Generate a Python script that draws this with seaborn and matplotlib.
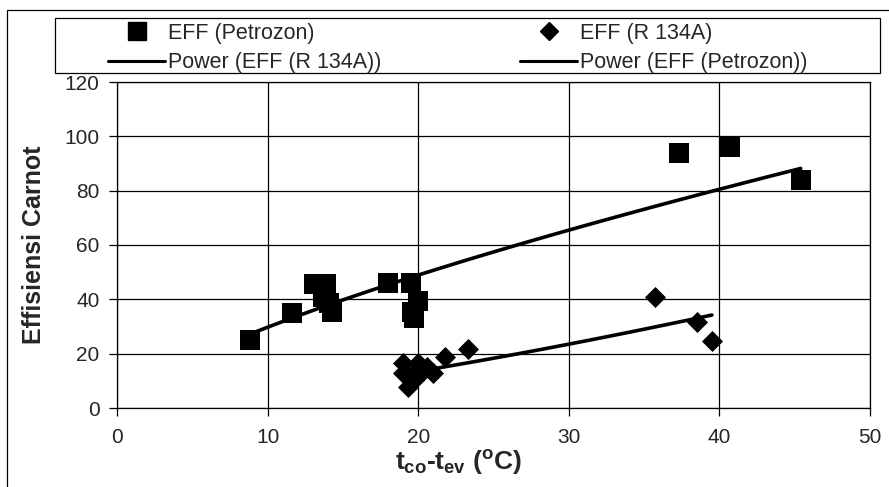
import numpy as np
import pandas as pd
import matplotlib.pyplot as plt
import seaborn as sns
from matplotlib.lines import Line2D
from matplotlib.patches import Rectangle

# Data
petro_x = [8.8, 11.6, 13.1, 13.7, 13.9, 13.7, 14.1, 14.3, 18.0, 19.5, 20.0, 19.6, 19.7, 37.3, 40.7, 45.4]
petro_y = [25, 35, 45.5, 45, 45.5, 41, 38.5, 35.5, 46, 46, 39.5, 35.5, 33, 94, 96, 84]
r134_x = [19.0, 19.3, 19.7, 19.0, 19.6, 20.0, 20.3, 20.6, 21.0, 21.8, 23.3, 35.7, 38.5, 39.5]
r134_y = [12.9, 7.7, 10.3, 16.5, 12.0, 16.5, 13.5, 15.0, 12.9, 18.8, 21.7, 41.0, 31.7, 24.7]
x_ticks = [0, 10, 20, 30, 40, 50]
y_ticks = [0, 20, 40, 60, 80, 100, 120]

sns.set_theme(style='white')
plt.rcParams['font.family'] = ['Liberation Sans', 'DejaVu Sans']
plt.rcParams['mathtext.fontset'] = 'custom'
plt.rcParams['mathtext.rm'] = 'Liberation Sans:bold'
plt.rcParams['mathtext.it'] = 'Liberation Sans:bold'
plt.rcParams['mathtext.bf'] = 'Liberation Sans:bold'


def power_fit(x, y):
    # y = a * x^b, fitted in log-log space like a spreadsheet trendline
    b, ln_a = np.polyfit(np.log(x), np.log(y), 1)
    xs = np.linspace(min(x), max(x), 100)
    return pd.DataFrame({'x': xs, 'y': np.exp(ln_a) * xs ** b})


petro = pd.DataFrame({'x': petro_x, 'y': petro_y})
r134 = pd.DataFrame({'x': r134_x, 'y': r134_y})
fit_r134 = power_fit(r134_x, r134_y)
fit_petro = power_fit(petro_x, petro_y)

fig = plt.figure(figsize=(8.89, 4.87), dpi=100)
ax = fig.add_axes([117 / 889, 79 / 487, 753 / 889, 326 / 487])

sns.scatterplot(data=petro, x='x', y='y', marker='s', s=190, color='black',
                edgecolor='black', linewidth=0, ax=ax, legend=False, zorder=3)
sns.scatterplot(data=r134, x='x', y='y', marker='D', s=115, color='black',
                edgecolor='black', linewidth=0, ax=ax, legend=False, zorder=3)
sns.lineplot(data=fit_r134, x='x', y='y', color='black', linewidth=2.6, ax=ax,
             legend=False, zorder=4)
sns.lineplot(data=fit_petro, x='x', y='y', color='black', linewidth=2.6, ax=ax,
             legend=False, zorder=4)

ax.set_xlim(0, 50)
ax.set_ylim(0, 120)
ax.set_xticks(x_ticks)
ax.set_yticks(y_ticks)
ax.grid(True, color='black', linewidth=0.9)
ax.set_axisbelow(True)
for sp in ax.spines.values():
    sp.set_color('black')
    sp.set_linewidth(0.9)
ax.tick_params(axis='both', direction='out', length=5.5, width=0.9, color='black',
               labelsize=15, bottom=True, left=True)
ax.tick_params(axis='x', pad=9)
ax.tick_params(axis='y', pad=7)

ax.set_xlabel(r'$t_{co}$-$t_{ev}$ ($^{o}$C)', fontsize=19, fontweight='bold')
ax.xaxis.set_label_coords(0.453, -0.123)
ax.set_ylabel('Effisiensi Carnot', fontsize=18, fontweight='bold')
ax.yaxis.set_label_coords(-0.094, 0.5)

# legend: two columns placed like the original
sq = Line2D([], [], marker='s', markersize=13.5, linestyle='none', color='black')
dia = Line2D([], [], marker='D', markersize=9.5, linestyle='none', color='black')
ln = Line2D([], [], color='black', linewidth=2.2)
leg_kw = dict(frameon=False, fontsize=15.5, handlelength=2.65, handletextpad=0.14,
              borderpad=0, borderaxespad=0, labelspacing=0.38, loc='upper left')
leg1 = fig.legend([sq, ln], ['EFF (Petrozon)', 'Power (EFF (R 134A))'],
                  bbox_to_anchor=(108 / 889, 1 - 23 / 487), **leg_kw)
leg2 = fig.legend([dia, ln], ['EFF (R 134A)', 'Power (EFF (Petrozon))'],
                  bbox_to_anchor=(520 / 889, 1 - 23 / 487), **leg_kw)

fig.patches.append(Rectangle((55 / 889, 1 - 73 / 487), 825 / 889, 55 / 487,
                             transform=fig.transFigure, fill=False,
                             edgecolor='black', linewidth=0.9))
# outer chart border
fig.patches.append(Rectangle((7 / 889, -0.01), 1.0, 1 - 10 / 487 + 0.01,
                             transform=fig.transFigure, fill=False,
                             edgecolor='black', linewidth=0.9))

fig.savefig('out.png', dpi=100)
